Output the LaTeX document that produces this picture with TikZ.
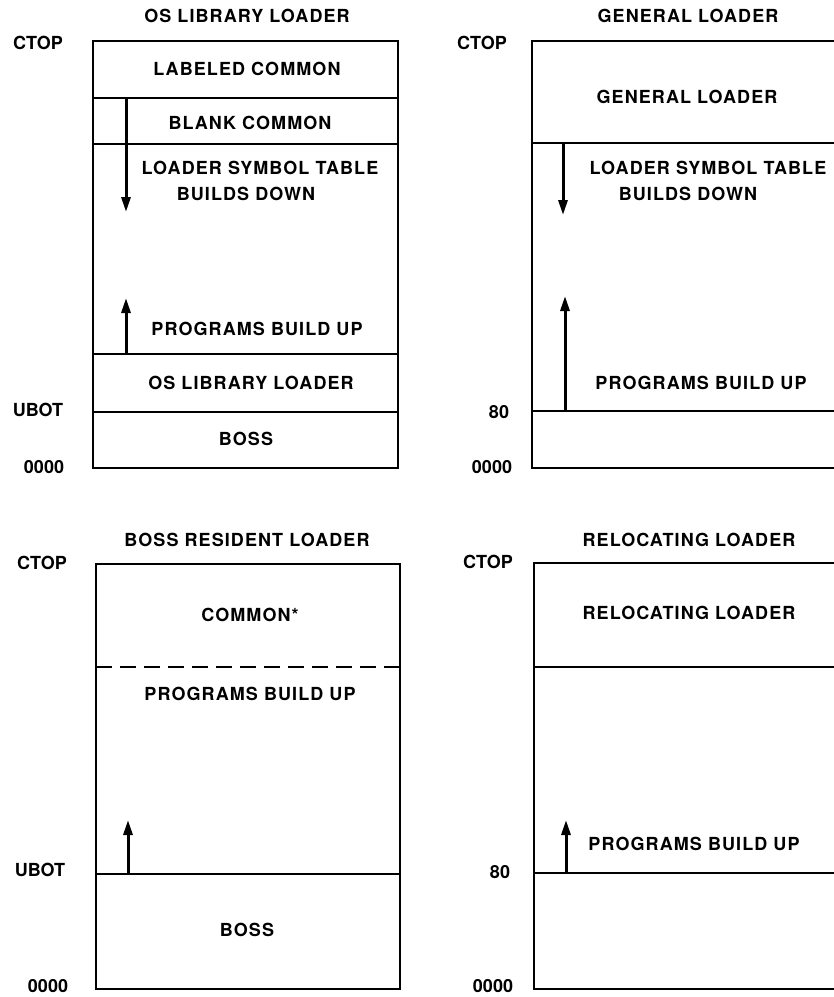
\documentclass[tikz,border=0pt]{standalone}
\usepackage{fontspec}
\setmainfont{TeX Gyre Heros}
\usetikzlibrary{arrows.meta}
\tikzset{
  mem_box/.style = {line width=1.9pt},
  mem_txt/.style = {inner sep=0pt, text centered,
    font=\fontsize{18}{21}\selectfont\bfseries\addfontfeature{LetterSpace=6}},
  addr_lbl/.style = {inner sep=0pt, font=\fontsize{18}{21}\selectfont\bfseries},
  grow_arr/.style = {-{Triangle[length=15pt,width=9pt]}, line width=3pt}}

\begin{document}
\begin{tikzpicture}[x=1pt,y=-1pt]
\useasboundingbox (0,0) rectangle (834,997);
\clip (0,0) rectangle (834,997);

% OS library loader map
\node [mem_txt] (os_title) at (247,16) {OS LIBRARY LOADER};
\draw [mem_box] (93,41) rectangle (398,468);
\draw [mem_box] (93,98) -- (398,98);
\draw [mem_box] (93,144) -- (398,144);
\draw [mem_box] (93,354) -- (398,354);
\draw [mem_box] (93,412) -- (398,412);
\node [mem_txt] (os_lc) at (247,69) {LABELED COMMON};
\node [mem_txt] (os_bc) at (250,123) {BLANK COMMON};
\node [mem_txt] (os_st) at (260,168) {LOADER SYMBOL TABLE};
\node [mem_txt] (os_bd) at (246,194) {BUILDS DOWN};
\node [mem_txt] (os_pg) at (257,329) {PROGRAMS BUILD UP};
\node [mem_txt] (os_ld) at (251,383) {OS LIBRARY LOADER};
\node [mem_txt] (os_boss) at (246,439) {BOSS};
\node [addr_lbl] (os_ctop) at (38,43) {CTOP};
\node [addr_lbl] (os_ubot) at (38,410) {UBOT};
\node [addr_lbl] (os_zero) at (44,467) {0000};
\coordinate (os_st0) at (126,98);
\coordinate (os_st1) at (126,212);
\coordinate (os_pg0) at (126,354);
\coordinate (os_pg1) at (126,298);
\draw [grow_arr] (os_st0) -- (os_st1);
\draw [grow_arr] (os_pg0) -- (os_pg1);

% general loader map
\node [mem_txt] (gl_title) at (688,16) {GENERAL LOADER};
\draw [mem_box] (532,41) rectangle (850,468);
\draw [mem_box] (532,143) -- (850,143);
\draw [mem_box] (532,411) -- (850,411);
\node [mem_txt] (gl_ld) at (687,97) {GENERAL LOADER};
\node [mem_txt] (gl_st) at (708,168) {LOADER SYMBOL TABLE};
\node [mem_txt] (gl_bd) at (688,194) {BUILDS DOWN};
\node [mem_txt] (gl_pg) at (701,383) {PROGRAMS BUILD UP};
\node [addr_lbl] (gl_ctop) at (482,43) {CTOP};
\node [addr_lbl] (gl_eighty) at (499,412) {80};
\node [addr_lbl] (gl_zero) at (492,467) {0000};
\coordinate (gl_st0) at (563,143);
\coordinate (gl_st1) at (563,215);
\coordinate (gl_pg0) at (565,411);
\coordinate (gl_pg1) at (565,296);
\draw [grow_arr] (gl_st0) -- (gl_st1);
\draw [grow_arr] (gl_pg0) -- (gl_pg1);

% BOSS resident loader map
\node [mem_txt] (br_title) at (247,540) {BOSS RESIDENT LOADER};
\draw [mem_box] (96,564) rectangle (400,989);
\draw [mem_box, dash pattern=on 16pt off 8pt] (96,667) -- (400,667);
\draw [mem_box] (96,874) -- (400,874);
\node [mem_txt] (br_cm) at (250,615) {COMMON*};
\node [mem_txt] (br_pg) at (250,694) {PROGRAMS BUILD UP};
\node [mem_txt] (br_boss) at (247,930) {BOSS};
\node [addr_lbl] (br_ctop) at (42,563) {CTOP};
\node [addr_lbl] (br_ubot) at (40,870) {UBOT};
\node [addr_lbl] (br_zero) at (48,986) {0000};
\coordinate (br_pg0) at (128,874);
\coordinate (br_pg1) at (128,820);
\draw [grow_arr] (br_pg0) -- (br_pg1);

% relocating loader map
\node [mem_txt] (rl_title) at (689,540) {RELOCATING LOADER};
\draw [mem_box] (534,563) rectangle (850,989);
\draw [mem_box] (534,667) -- (850,667);
\draw [mem_box] (534,873) -- (850,873);
\node [mem_txt] (rl_ld) at (689,613) {RELOCATING LOADER};
\node [mem_txt] (rl_pg) at (694,844) {PROGRAMS BUILD UP};
\node [addr_lbl] (rl_ctop) at (488,562) {CTOP};
\node [addr_lbl] (rl_eighty) at (500,872) {80};
\node [addr_lbl] (rl_zero) at (493,986) {0000};
\coordinate (rl_pg0) at (566,873);
\coordinate (rl_pg1) at (566,820);
\draw [grow_arr] (rl_pg0) -- (rl_pg1);
\end{tikzpicture}
\end{document}
